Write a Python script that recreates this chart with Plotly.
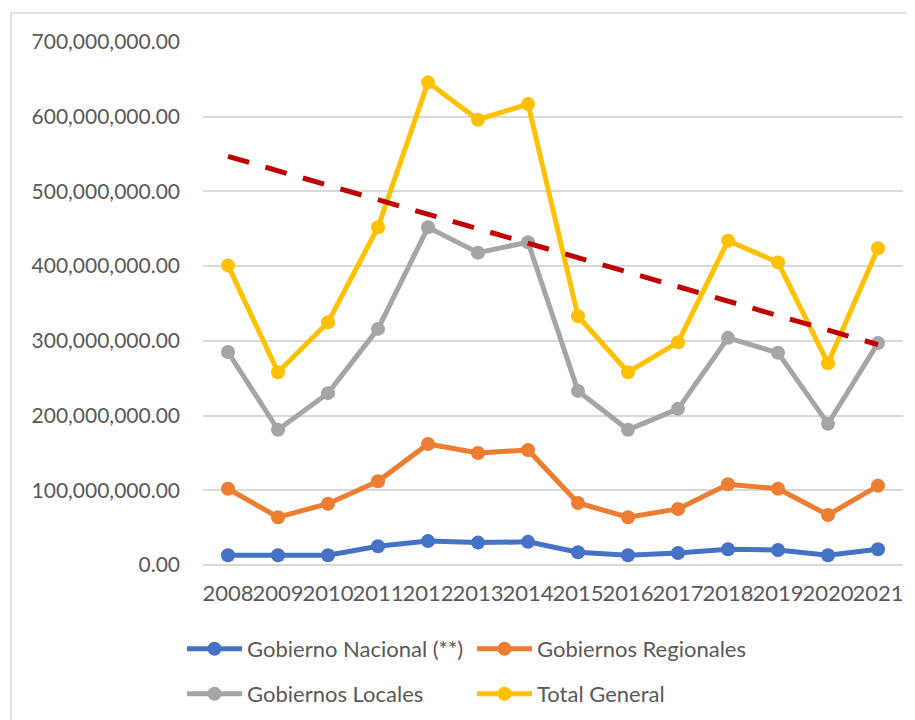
import plotly.graph_objects as go

years = ["2008", "2009", "2010", "2011", "2012", "2013", "2014",
         "2015", "2016", "2017", "2018", "2019", "2020", "2021"]

gobierno_nacional = [13e6, 13e6, 13e6, 25e6, 32e6, 30e6, 31e6,
                     17e6, 13e6, 16e6, 21e6, 20e6, 13e6, 21e6]
gobiernos_regionales = [102e6, 64e6, 82e6, 112e6, 162e6, 150e6, 154e6,
                        83e6, 64e6, 75e6, 108e6, 102e6, 67e6, 106e6]
gobiernos_locales = [285e6, 181e6, 230e6, 316e6, 452e6, 418e6, 432e6,
                     233e6, 181e6, 209e6, 304e6, 284e6, 189e6, 297e6]
total_general = [401e6, 258e6, 325e6, 452e6, 646e6, 596e6, 617e6,
                 333e6, 258e6, 298e6, 434e6, 405e6, 270e6, 424e6]

trend_years = ["2008", "2021"]
trend_values = [547e6, 295e6]

y_ticks = [0, 100e6, 200e6, 300e6, 400e6, 500e6, 600e6, 700e6]

FONT = "Lato"
TXT = "#595959"
GRID = "#d9d9d9"

series = [
    ("Gobierno Nacional (**)", gobierno_nacional, "#4472C4", "legend"),
    ("Gobiernos Regionales", gobiernos_regionales, "#ED7D31", "legend"),
    ("Gobiernos Locales", gobiernos_locales, "#A5A5A5", "legend2"),
    ("Total General", total_general, "#FFC000", "legend2"),
]

fig = go.Figure()
for name, vals, col, leg in series:
    fig.add_trace(go.Scatter(
        x=years, y=vals, name=name, mode="lines+markers",
        line=dict(color=col, width=5),
        marker=dict(color=col, size=14),
        legend=leg,
    ))

fig.add_trace(go.Scatter(
    x=trend_years, y=trend_values, mode="lines", showlegend=False,
    line=dict(color="#C00000", width=5, dash="22px,17px"),
))

# plot area (screenshot px): x 203..903, y 42..565 ; page offset 8px
PL, PT, PW, PH = 203, 42, 700, 523

def px(xp):
    return (xp - PL) / PW

def py(yp):
    return (PT + PH - yp) / PH

fig.update_layout(
    width=915, height=720,
    margin=dict(l=PL - 8, r=915 - (PL - 8) - PW, t=PT - 8,
                b=720 - (PT - 8) - PH, autoexpand=False),
    paper_bgcolor="white", plot_bgcolor="white",
    font=dict(family=FONT, size=21, color=TXT),
    xaxis=dict(
        type="category", range=[-0.5, len(years) - 0.5],
        tickangle=0, showgrid=False, showline=False,
        ticks="", ticklabelstandoff=13, automargin=False,
        tickfont=dict(family=FONT, size=22, color=TXT),
    ),
    yaxis=dict(
        range=[0, 700e6], tickvals=y_ticks, tickformat=",.2f",
        showgrid=True, gridcolor=GRID, gridwidth=1.5,
        zeroline=True, zerolinecolor=GRID, zerolinewidth=1.5,
        showline=False, ticks="", ticklabelstandoff=22, automargin=False,
        tickfont=dict(family=FONT, size=21, color=TXT),
    ),
    legend=dict(
        orientation="h", x=px(182), xanchor="left",
        y=py(649), yanchor="middle",
        entrywidth=220, itemwidth=55,
        font=dict(family=FONT, size=22, color=TXT),
        bgcolor="rgba(0,0,0,0)",
    ),
    legend2=dict(
        orientation="h", x=px(182), xanchor="left",
        y=py(694), yanchor="middle",
        entrywidth=220, itemwidth=55,
        font=dict(family=FONT, size=22, color=TXT),
        bgcolor="rgba(0,0,0,0)",
    ),
    shapes=[dict(
        type="rect", xref="paper", yref="paper",
        x0=px(11), x1=px(940), y0=py(760), y1=py(13),
        line=dict(color=GRID, width=1.5), layer="below",
    )],
)

fig.write_html("out.html")
